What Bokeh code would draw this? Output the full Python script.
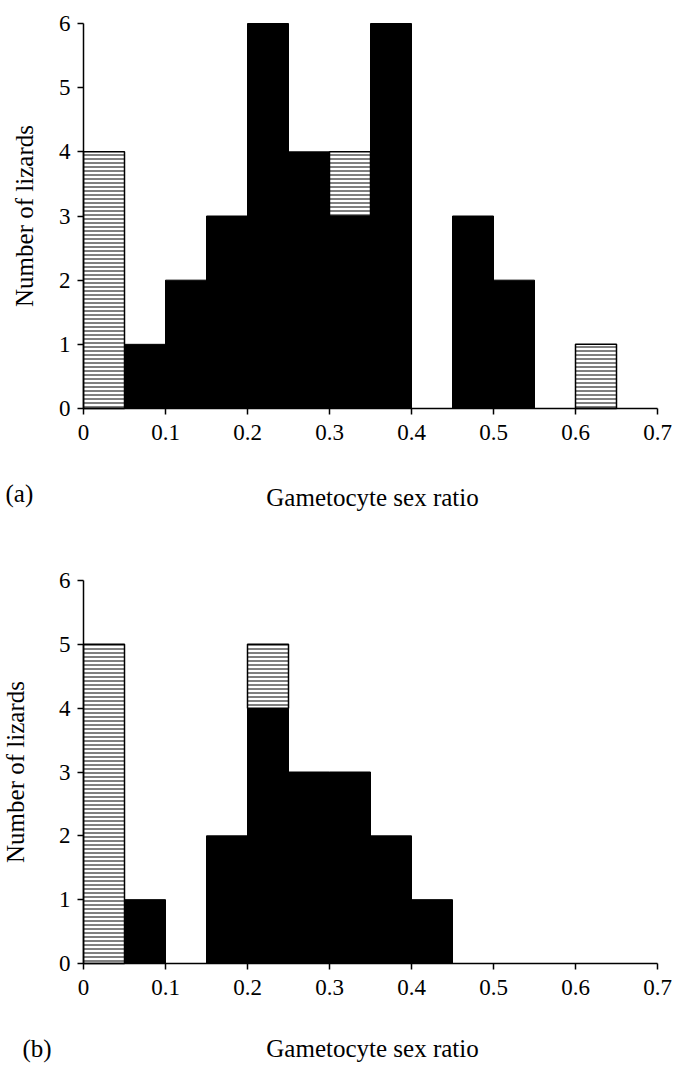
import math
from bokeh.plotting import figure
from bokeh.models import FixedTicker
from bokeh.core.properties import value
from bokeh.layouts import column
from bokeh.embed import file_html
from bokeh.resources import INLINE

# Histogram bins (left edges), width 0.05
bin_left = [0.0, 0.05, 0.10, 0.15, 0.20, 0.25, 0.30, 0.35, 0.40, 0.45, 0.50, 0.55, 0.60, 0.65]
bin_width = 0.05

# Panel (a): solid (black) counts and hatched counts stacked on top
a_black = [0, 1, 2, 3, 6, 4, 3, 6, 0, 3, 2, 0, 0, 0]
a_hatched = [4, 0, 0, 0, 0, 0, 1, 0, 0, 0, 0, 0, 1, 0]

# Panel (b)
b_black = [0, 1, 0, 2, 4, 3, 3, 2, 1, 0, 0, 0, 0, 0]
b_hatched = [5, 0, 0, 0, 1, 0, 0, 0, 0, 0, 0, 0, 0, 0]

x_ticks = [0, 0.1, 0.2, 0.3, 0.4, 0.5, 0.6, 0.7]
x_tick_labels = ["0", "0.1", "0.2", "0.3", "0.4", "0.5", "0.6", "0.7"]
y_ticks = [0, 1, 2, 3, 4, 5, 6]

x_title = "Gametocyte sex ratio"
y_title = "Number of lizards"

FONT = "Liberation Serif"
W = 675
X0_PX, X1_PX = 83, 657          # pixel positions of x = 0 and x = 0.7


def make_panel(black, hatched, tag, height, y6_px, y0_px, ylab_px, xlab_py, tag_px, tag_py):
    sx = (X1_PX - X0_PX) / 0.7
    sy = (y0_px - y6_px) / 6.0
    px2x = lambda px: (px - X0_PX) / sx
    py2y = lambda py: (y0_px - py) / sy

    p = figure(width=W, height=height,
               x_range=(px2x(0), px2x(W)), y_range=(py2y(height), py2y(0)),
               output_backend="svg", toolbar_location=None, min_border=0)
    p.outline_line_color = None
    p.xgrid.visible = False
    p.ygrid.visible = False

    bl, br, bb, bt = [], [], [], []
    hl, hr, hb, ht = [], [], [], []
    for x0, nb, nh in zip(bin_left, black, hatched):
        if nb > 0:
            bl.append(x0); br.append(x0 + bin_width); bb.append(0); bt.append(nb)
        if nh > 0:
            hl.append(x0); hr.append(x0 + bin_width); hb.append(nb); ht.append(nb + nh)

    p.quad(left=bl, right=br, bottom=bb, top=bt, fill_color="black", line_color="black", line_width=1)
    p.quad(left=hl, right=hr, bottom=hb, top=ht, fill_color="white", line_color="black", line_width=1.5,
           hatch_pattern="horizontal_line", hatch_color="black", hatch_scale=4, hatch_weight=1)

    for ax in (p.xaxis[0], p.yaxis[0]):
        ax.fixed_location = 0
        ax.axis_line_width = 1.5
        ax.axis_line_color = "black"
        ax.major_tick_line_color = "black"
        ax.major_tick_line_width = 1.5
        ax.major_tick_in = 0
        ax.major_tick_out = 6
        ax.minor_tick_line_color = None
        ax.major_label_text_font = FONT
        ax.major_label_text_font_size = "23px"
        ax.major_label_text_color = "black"

    p.xaxis.bounds = (0, 0.7)
    p.xaxis.ticker = FixedTicker(ticks=x_ticks)
    p.xaxis.major_label_overrides = {t: s for t, s in zip(x_ticks, x_tick_labels)}
    p.xaxis.major_label_standoff = 10

    p.yaxis.bounds = (0, 6)
    p.yaxis.ticker = FixedTicker(ticks=y_ticks)
    p.yaxis.major_label_standoff = 7

    # axis titles and panel tag
    p.text(x=[px2x(372)], y=[py2y(xlab_py)], text=[x_title],
           text_font=value(FONT), text_font_size=value("25px"), text_color="black",
           text_align="center", text_baseline="middle")
    p.text(x=[px2x(ylab_px)], y=[3.0], text=[y_title], angle=math.pi / 2,
           text_font=value(FONT), text_font_size=value("25px"), text_color="black",
           text_align="center", text_baseline="middle")
    p.text(x=[px2x(tag_px)], y=[py2y(tag_py)], text=[tag],
           text_font=value(FONT), text_font_size=value("25px"), text_color="black",
           text_align="left", text_baseline="middle")
    return p


# panel (a): figure rows 0..530 of the page
pa = make_panel(a_black, a_hatched, "(a)", 530, 23, 408, 24, 497, 5, 493)
# panel (b): figure rows 530..1065 of the page
pb = make_panel(b_black, b_hatched, "(b)", 535, 50, 433, 15, 518, 22, 518)

layout = column(pa, pb, spacing=0)
open("out.html", "w").write(file_html(layout, INLINE))
